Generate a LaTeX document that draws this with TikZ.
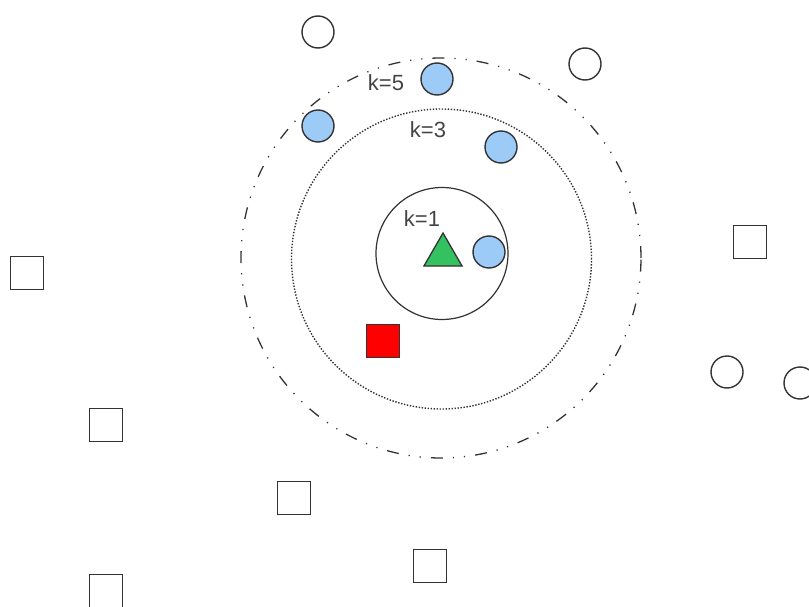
\documentclass[tikz,border=0pt]{standalone}
\usepackage{fontspec}
\setmainfont{Liberation Sans}
\usetikzlibrary{shapes.geometric}
\definecolor{strk}{HTML}{333333}
\definecolor{bluef}{HTML}{9DCBF8}
\definecolor{greenf}{HTML}{33C25F}
\definecolor{txt}{HTML}{444444}
\tikzset{
  pt/.style={circle,draw=strk,line width=1.4pt,minimum size=32pt,inner sep=0pt},
  bluept/.style={pt,fill=bluef},
  whitept/.style={pt,fill=white},
  sq/.style={rectangle,draw=strk,line width=1.4pt,minimum size=33pt,inner sep=0pt},
  redsq/.style={sq,fill=red},
  query/.style={regular polygon,regular polygon sides=3,draw=strk,line width=1.3pt,fill=greenf,inner sep=0pt,minimum size=44pt},
  klabel/.style={font=\fontsize{22}{25}\selectfont,text=txt,inner sep=0pt},
  ring/.style={draw=strk,line width=1.2pt,fill=none}
}
\begin{document}
\begin{tikzpicture}[x=1pt,y=-1pt]
\useasboundingbox (0,0) rectangle (809,607);
% rings
\draw[ring,line width=1.3pt,dash pattern=on 12pt off 10pt on 1.2pt off 10pt on 1.2pt off 10pt] (441,258) circle (200pt);
\draw[ring,line width=1.4pt,dash pattern=on 1.4pt off 1.6pt] (441.5,259) circle (150pt);
\draw[ring] (442,253.5) circle (66pt);
% labels
\node[klabel] (k5) at (386,83) {k=5};
\node[klabel] (k3) at (428,130) {k=3};
\node[klabel] (k1) at (422,219) {k=1};
% query
\node[query] (q) at (443,255) {};
% blue neighbours
\node[bluept] (b1) at (489,252) {};
\node[bluept] (b2) at (437,79) {};
\node[bluept] (b3) at (318,126) {};
\node[bluept] (b4) at (501,147) {};
% white circles
\node[whitept] (w1) at (318,32) {};
\node[whitept] (w2) at (585,64) {};
\node[whitept] (w3) at (727,372) {};
\node[whitept] (w4) at (800,383) {};
% squares
\node[redsq] (r1) at (383,341) {};
\node[sq] (s1) at (27,273) {};
\node[sq] (s2) at (750,242) {};
\node[sq] (s3) at (106,425) {};
\node[sq] (s4) at (294,498) {};
\node[sq] (s5) at (430,566) {};
\node[sq] (s6) at (106,591) {};
\end{tikzpicture}
\end{document}
